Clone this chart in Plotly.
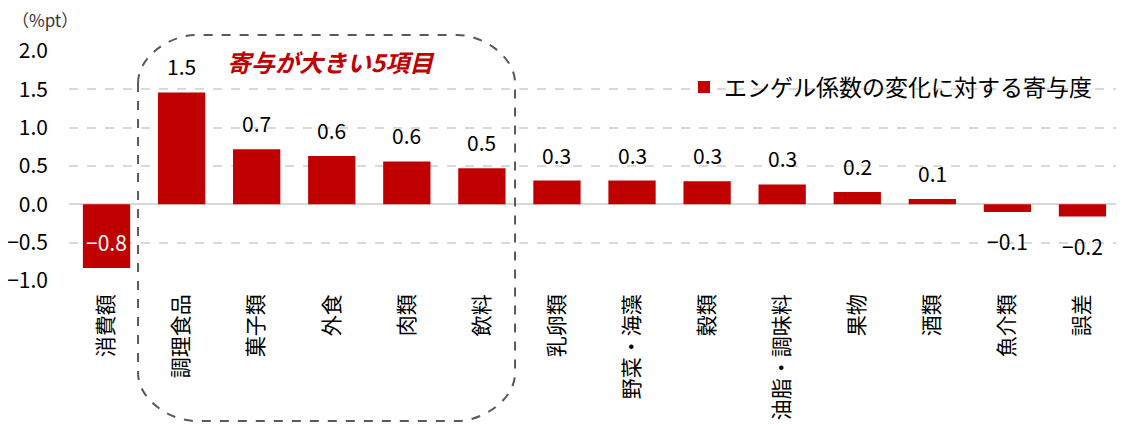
import plotly.graph_objects as go

# エンゲル係数の変化に対する寄与度（%pt）
categories = ['消費額', '調理食品', '菓子類', '外食', '肉類', '飲料', '乳卵類',
              '野菜・海藻', '穀類', '油脂・調味料', '果物', '酒類', '魚介類', '誤差']
contrib = [-0.83, 1.46, 0.72, 0.63, 0.56, 0.47, 0.31,
           0.31, 0.30, 0.26, 0.16, 0.07, -0.10, -0.16]
y_ticks = [-1.0, -0.5, 0.0, 0.5, 1.0, 1.5, 2.0]
series_name = 'エンゲル係数の変化に対する寄与度'
box_title = '寄与が大きい5項目'
unit_label = '（%pt）'

RED = '#c00000'
FONT = 'Noto Sans CJK JP'
OFF = 8  # page body margin
W, H = 1124 - OFF, 426 - OFF
ML, MR, MT, MB = 69 - OFF, 4, 51 - OFF, 145

fig = go.Figure(go.Bar(
    x=categories, y=contrib, name=series_name,
    marker=dict(color=RED, line=dict(width=0)),
    showlegend=True,
))

# data labels
annos = []
for cat, v in zip(categories, contrib):
    txt = '{:.1f}'.format(v).replace('-', '\u2212')
    if v >= 0:
        shift, col = 26, 'black'
    elif v < -0.5:
        shift, col = 26, 'white'
    else:
        shift, col = -29, 'black'
    annos.append(dict(x=cat, y=v, text=txt, showarrow=False, yshift=shift,
                      xanchor='center', yanchor='middle',
                      font=dict(size=21, color=col, family=FONT)))

pw = W - ML - MR
ph = H - MT - MB


# screen pixel -> paper coords
def px(x):
    return (x - OFF - ML) / pw


def py(y):
    return (H - MB - (y - OFF)) / ph


annos.append(dict(xref='paper', yref='paper', x=px(331), y=py(62), text='<b><i>' + box_title + '</i></b>',
                  showarrow=False, xanchor='center', yanchor='middle',
                  font=dict(size=24, color=RED, family=FONT)))
annos.append(dict(xref='paper', yref='paper', x=px(10), y=py(20), text=unit_label,
                  showarrow=False, xanchor='left', yanchor='middle',
                  font=dict(size=17, color='#333333', family=FONT)))

# rounded dashed box around the top five items
L, R, T, B = 138, 515, 35, 421
rx, ry = 58, 48
k = 0.45
pts = [
    ('M', [(L, T + ry)]),
    ('L', [(L, B - ry)]),
    ('C', [(L, B - ry * k), (L + rx * (1 - k), B), (L + rx, B)]),
    ('L', [(R - rx, B)]),
    ('C', [(R - rx * (1 - k), B), (R, B - ry * k), (R, B - ry)]),
    ('L', [(R, T + ry)]),
    ('C', [(R, T + ry * k), (R - rx * (1 - k), T), (R - rx, T)]),
    ('L', [(L + rx, T)]),
    ('C', [(L + rx * (1 - k), T), (L, T + ry * k), (L, T + ry)]),
]
path = ''
for cmd, coords in pts:
    path += cmd + ' '.join('{:.4f},{:.4f}'.format(px(a), py(b)) for a, b in coords)
path += ' Z'

fig.update_layout(
    width=W, height=H,
    margin=dict(l=ML, r=MR, t=MT, b=MB, autoexpand=False),
    plot_bgcolor='white', paper_bgcolor='white',
    font=dict(family=FONT, size=20, color='black'),
    bargap=0.37,
    annotations=annos,
    shapes=[dict(type='path', xref='paper', yref='paper', path=path,
                 line=dict(color='#595959', width=2, dash='dash'), layer='above')],
    legend=dict(x=px(684), y=py(87), xanchor='left', yanchor='middle',
                bgcolor='rgba(0,0,0,0)', itemwidth=30,
                font=dict(size=23, color='black', family=FONT)),
    xaxis=dict(tickangle=-90, showgrid=False, showline=False, ticks='',
               ticklabelstandoff=8, automargin=False,
               tickfont=dict(size=21, family=FONT)),
    yaxis=dict(range=[-1.0, 2.0], tickvals=y_ticks, tickformat='.1f',
               showgrid=True, gridcolor='#d9d9d9', griddash='dash', gridwidth=1.5,
               zeroline=True, zerolinecolor='#d9d9d9', zerolinewidth=2,
               showline=False, ticks='', ticklabelstandoff=20, automargin=False,
               tickfont=dict(size=21, family=FONT)),
)

fig.write_html("out.html")
